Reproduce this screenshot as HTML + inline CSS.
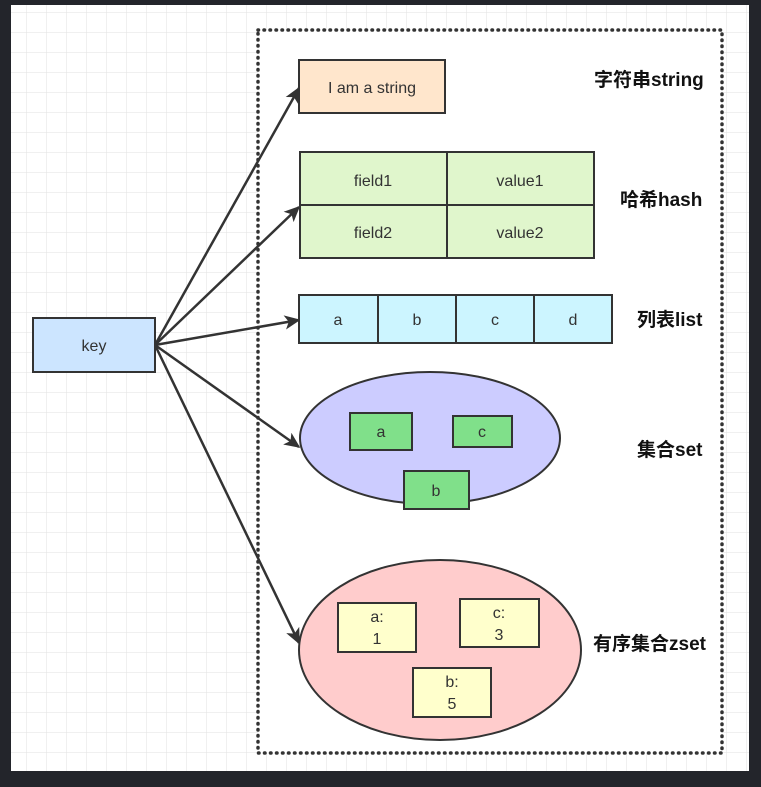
<!DOCTYPE html>
<html><head><meta charset="utf-8"><style>
html,body{margin:0;padding:0;background:#23252b;width:761px;height:787px;overflow:hidden}
svg{display:block}
text{font-family:"Liberation Sans","Noto Sans CJK SC",sans-serif;fill:#333}
.b{font-weight:bold;fill:#111;font-size:19px}
</style></head><body>
<svg width="761" height="787" viewBox="0 0 761 787">
<defs>
<pattern id="g" x="7" y="13" width="20" height="20" patternUnits="userSpaceOnUse">
<path d="M20 0V20M0 20H20" stroke="#e2e2e2" stroke-width="1" fill="none"/>
</pattern>
<marker id="ar" viewBox="0 0 10 10" refX="9" refY="5" markerWidth="16" markerHeight="16" orient="auto" markerUnits="userSpaceOnUse"><path d="M0 0.5L10 5L0 9.5L2.5 5Z" fill="#333"/></marker>
</defs>
<rect x="11" y="5" width="738" height="766" fill="#fff"/>
<rect x="11" y="5" width="738" height="766" fill="url(#g)"/>
<rect x="258" y="30" width="464" height="723" fill="#fff" stroke="#333" stroke-width="3.5" stroke-dasharray="0.5 5.5" stroke-linecap="round"/>
<g stroke="#333" stroke-width="2.5" fill="none">
<line x1="155" y1="345" x2="299" y2="88" marker-end="url(#ar)"/>
<line x1="155" y1="345" x2="299" y2="207" marker-end="url(#ar)"/>
<line x1="155" y1="345" x2="299" y2="320" marker-end="url(#ar)"/>
<line x1="155" y1="345" x2="299" y2="447" marker-end="url(#ar)"/>
<line x1="155" y1="345" x2="299" y2="643" marker-end="url(#ar)"/>
</g>
<g stroke="#333" stroke-width="2">
<rect x="33" y="318" width="122" height="54" fill="#cce5ff"/>
<rect x="299" y="60" width="146" height="53" fill="#ffe6cc"/>
<rect x="300" y="152" width="294" height="106" fill="#e0f6cc"/>
<line x1="447" y1="152" x2="447" y2="258"/><line x1="300" y1="205" x2="594" y2="205"/>
<rect x="299" y="295" width="313" height="48" fill="#ccf5ff"/>
<line x1="378" y1="295" x2="378" y2="343"/><line x1="456" y1="295" x2="456" y2="343"/><line x1="534" y1="295" x2="534" y2="343"/>
<ellipse cx="430" cy="438" rx="130" ry="66" fill="#ccccff"/>
<rect x="350" y="413" width="62" height="37" fill="#80e08a"/>
<rect x="453" y="416" width="59" height="31" fill="#80e08a"/>
<rect x="404" y="471" width="65" height="38" fill="#80e08a"/>
<ellipse cx="440" cy="650" rx="141" ry="90" fill="#ffcccc"/>
<rect x="338" y="603" width="78" height="49" fill="#ffffcc"/>
<rect x="460" y="599" width="79" height="48" fill="#ffffcc"/>
<rect x="413" y="668" width="78" height="49" fill="#ffffcc"/>
</g>
<g font-size="16" text-anchor="middle">
<text x="94" y="351">key</text>
<text x="372" y="93">I am a string</text>
<text x="373" y="186">field1</text><text x="520" y="186">value1</text>
<text x="373" y="238">field2</text><text x="520" y="238">value2</text>
<text x="338" y="325">a</text><text x="417" y="325">b</text><text x="495" y="325">c</text><text x="573" y="325">d</text>
<text x="381" y="437">a</text><text x="482" y="437">c</text><text x="436" y="496">b</text>
<text x="377" y="622">a:</text><text x="377" y="644">1</text>
<text x="499" y="618">c:</text><text x="499" y="640">3</text>
<text x="452" y="687">b:</text><text x="452" y="709">5</text>
</g>
<text class="b" x="594" y="86" font-size="20">字符串string</text>
<text class="b" x="620" y="206">哈希hash</text>
<text class="b" x="637" y="326">列表list</text>
<text class="b" x="637" y="456">集合set</text>
<text class="b" x="593" y="650">有序集合zset</text>
</svg>
</body></html>
